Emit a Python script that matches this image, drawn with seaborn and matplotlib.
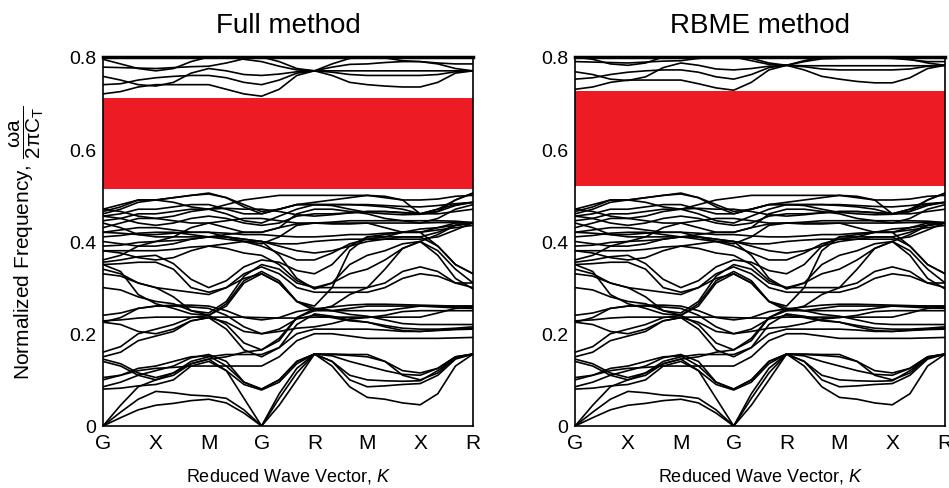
import numpy as np
import pandas as pd
import seaborn as sns
import matplotlib.pyplot as plt

# high-symmetry path, equally spaced on the axis
k_labels = ['G', 'X', 'M', 'G', 'R', 'M', 'X', 'R']
n_pts = 22  # 3 samples per segment + end point

# gap edges (normalized frequency)
gap_full = (0.514, 0.711)
gap_rbme = (0.520, 0.727)

# bands below the gap (shared by both panels)
b01 = [0, .018, .035, .045, .049, .055, .058, .05, .028, 0, .045, .1, .156, .13, .085, .062, .058, .05, .046, .07, .13, .156]
b02 = [0, .03, .058, .075, .072, .067, .065, .06, .035, 0, .06, .115, .156, .14, .1, .085, .087, .09, .092, .11, .145, .156]
b03 = [0, .045, .085, .1, .11, .135, .145, .12, .06, 0, .07, .125, .156, .155, .153, .15, .14, .11, .1, .115, .148, .156]
b04 = [.08, .082, .087, .09, .1, .13, .14, .12, .09, .078, .095, .135, .156, .156, .155, .155, .14, .12, .115, .125, .15, .156]
b05 = [.085, .095, .11, .12, .13, .148, .155, .14, .095, .08, .1, .14, .156, .14, .11, .1, .098, .097, .098, .12, .148, .156]
b06 = [.105, .11, .12, .125, .127, .13, .13, .13, .13, .13, .15, .185, .2, .2, .195, .19, .19, .19, .19, .19, .191, .192]
b07 = [.14, .13, .11, .1, .115, .14, .15, .155, .155, .155, .17, .2, .21, .21, .21, .21, .208, .205, .205, .208, .21, .212]
b08 = [.15, .16, .185, .195, .205, .228, .235, .21, .165, .15, .17, .22, .243, .238, .23, .225, .215, .207, .205, .207, .209, .21]
b09 = [.16, .172, .2, .21, .22, .235, .24, .22, .18, .165, .185, .235, .254, .25, .242, .238, .23, .222, .22, .22, .22, .22]
b10 = [.225, .22, .205, .2, .21, .228, .235, .225, .205, .2, .205, .212, .215, .222, .232, .235, .24, .248, .25, .25, .25, .25]
b11 = [.228, .23, .234, .236, .236, .236, .236, .236, .236, .235, .234, .234, .236, .236, .236, .236, .236, .236, .236, .245, .255, .257]
b12 = [.24, .245, .255, .26, .262, .262, .26, .25, .235, .23, .235, .248, .254, .258, .262, .264, .264, .263, .262, .261, .26, .26]
b13 = [.3, .295, .28, .27, .265, .25, .245, .27, .325, .35, .34, .31, .3, .3, .3, .3, .31, .335, .345, .335, .31, .3]
b14 = [.355, .36, .367, .37, .352, .318, .3, .315, .345, .36, .355, .337, .33, .35, .39, .41, .41, .41, .41, .39, .35, .33]
b15 = [.35, .335, .285, .265, .255, .243, .24, .265, .315, .335, .315, .27, .25, .26, .285, .3, .34, .385, .4, .415, .435, .44]
b16 = [.34, .33, .31, .3, .28, .25, .24, .26, .31, .33, .31, .27, .26, .3, .38, .41, .415, .42, .42, .43, .44, .44]
b17 = [.38, .38, .38, .38, .383, .388, .39, .395, .4, .4, .37, .32, .297, .31, .35, .37, .38, .395, .4, .37, .32, .297]
b18 = [.40, .395, .39, .39, .395, .405, .41, .415, .42, .42, .43, .438, .44, .44, .44, .44, .43, .42, .42, .39, .35, .33]
b19 = [.41, .413, .418, .42, .42, .415, .41, .405, .4, .39, .375, .36, .36, .375, .395, .405, .405, .405, .405, .41, .425, .441]
b20 = [.42, .425, .43, .43, .425, .42, .42, .41, .4, .395, .41, .435, .44, .438, .438, .44, .44, .44, .44, .441, .441, .441]
b21 = [.43, .44, .45, .45, .445, .44, .44, .43, .42, .42, .43, .46, .47, .47, .465, .46, .45, .445, .44, .45, .47, .48]
b22 = [.445, .45, .46, .46, .465, .47, .47, .46, .445, .44, .455, .47, .48, .478, .47, .463, .46, .458, .459, .465, .478, .485]
b23 = [.455, .46, .47, .47, .475, .48, .48, .47, .46, .46, .47, .48, .48, .48, .48, .48, .478, .476, .475, .478, .482, .485]
b24 = [.46, .47, .485, .49, .485, .475, .47, .48, .49, .495, .5, .5, .5, .5, .5, .5, .495, .49, .49, .492, .498, .5]
b25 = [.47, .48, .49, .49, .495, .5, .503, .495, .475, .46, .47, .48, .485, .49, .495, .5, .498, .49, .46, .47, .49, .505]
b26 = [.465, .475, .49, .49, .495, .5, .505, .495, .48, .465, .47, .48, .48, .48, .48, .478, .475, .47, .46, .465, .49, .505]
b27 = [.44, .43, .415, .41, .41, .41, .41, .41, .405, .4, .39, .38, .375, .38, .39, .4, .405, .41, .41, .42, .435, .44]
b28 = [.39, .392, .398, .4, .402, .405, .41, .41, .405, .4, .395, .395, .4, .403, .405, .405, .41, .42, .427, .43, .435, .44]
b29 = [.36, .37, .39, .4, .41, .43, .44, .445, .45, .45, .445, .44, .44, .442, .445, .445, .445, .445, .445, .445, .444, .441]
b30 = [.35, .352, .355, .355, .34, .3, .29, .3, .33, .345, .33, .3, .29, .29, .29, .29, .3, .32, .33, .325, .31, .31]
b31 = [.145, .135, .115, .105, .115, .135, .145, .15, .16, .165, .19, .235, .25, .25, .255, .26, .26, .26, .26, .26, .26, .26]
b32 = [.1, .11, .125, .13, .14, .15, .152, .13, .095, .08, .1, .14, .156, .152, .14, .13, .12, .112, .11, .125, .15, .156]
b33 = [.225, .235, .255, .26, .26, .258, .255, .24, .215, .2, .21, .232, .24, .235, .228, .225, .218, .212, .21, .21, .212, .215]
b34 = [.455, .45, .44, .435, .44, .45, .455, .45, .44, .435, .44, .455, .46, .46, .462, .465, .465, .462, .46, .47, .48, .485]
b35 = [.42, .418, .415, .415, .418, .42, .42, .418, .415, .415, .412, .41, .41, .412, .415, .415, .418, .42, .42, .425, .43, .435]
b36 = [.47, .465, .455, .45, .455, .465, .47, .472, .47, .47, .465, .458, .455, .458, .462, .465, .465, .463, .46, .46, .465, .47]
b37 = [.38, .375, .365, .36, .365, .38, .39, .385, .375, .37, .35, .315, .3, .31, .33, .34, .36, .385, .4, .38, .34, .31]
b38 = [.33, .325, .31, .3, .295, .29, .285, .3, .32, .33, .31, .27, .255, .25, .25, .25, .25, .255, .26, .258, .256, .255]
lower_bands = [b01, b02, b03, b04, b05, b06, b07, b08, b09, b10, b11, b12, b13, b14, b15, b16, b17, b18, b19,
               b20, b21, b22, b23, b24, b25, b26, b27, b28, b29, b30, b31, b32, b33, b34, b35, b36, b37, b38]

# bands above the gap, full method
fu1 = [.72, .725, .735, .74, .74, .74, .74, .73, .72, .715, .73, .76, .77, .76, .745, .74, .737, .735, .735, .745, .765, .77]
fu2 = [.74, .742, .75, .755, .758, .76, .76, .755, .745, .74, .75, .765, .77, .767, .762, .76, .76, .76, .76, .762, .768, .77]
fu3 = [.758, .75, .74, .737, .745, .765, .775, .77, .762, .76, .763, .768, .77, .778, .784, .785, .788, .79, .79, .785, .775, .77]
fu4 = [.778, .777, .776, .775, .777, .779, .78, .787, .796, .8, .79, .775, .77, .785, .797, .8, .798, .792, .79, .787, .785, .785]
fu5 = [.795, .785, .775, .77, .775, .79, .8, .8, .795, .79, .78, .772, .77, .77, .77, .77, .77, .77, .77, .77, .77, .77]
upper_full = [fu1, fu2, fu3, fu4, fu5]

# bands above the gap, RBME method
ru1 = [.73, .735, .745, .75, .75, .75, .75, .742, .733, .728, .745, .772, .782, .772, .758, .752, .747, .744, .744, .755, .775, .782]
ru2 = [.752, .755, .762, .767, .77, .772, .772, .767, .757, .752, .762, .777, .782, .779, .774, .772, .772, .772, .772, .774, .78, .782]
ru3 = [.768, .762, .752, .749, .757, .777, .787, .782, .774, .772, .775, .78, .782, .79, .796, .797, .798, .8, .8, .795, .787, .782]
ru4 = [.79, .789, .788, .787, .789, .791, .792, .797, .8, .8, .797, .787, .782, .792, .8, .8, .8, .798, .797, .794, .79, .79]
ru5 = [.8, .795, .785, .782, .787, .8, .8, .8, .8, .8, .792, .784, .782, .781, .781, .781, .781, .781, .781, .781, .781, .782]
upper_rbme = [ru1, ru2, ru3, ru4, ru5]


def bands_frame(bands):
    k = np.linspace(0, len(k_labels) - 1, n_pts)
    rows = []
    for i, b in enumerate(bands):
        for kk, f in zip(k, b):
            rows.append((i, kk, f))
    return pd.DataFrame(rows, columns=['band', 'k', 'freq'])


sns.set_style('white')
plt.rcParams['font.family'] = ['Liberation Sans', 'DejaVu Sans']
plt.rcParams['mathtext.fontset'] = 'custom'
plt.rcParams['mathtext.rm'] = 'Liberation Sans'
plt.rcParams['mathtext.it'] = 'Liberation Sans:italic'
for key in ['text.color', 'axes.labelcolor', 'xtick.color', 'ytick.color']:
    plt.rcParams[key] = 'black'

fig = plt.figure(figsize=(9.49, 4.89), dpi=100)
ax1 = fig.add_axes([0.1085, 0.1268, 0.39, 0.7546])
ax2 = fig.add_axes([0.606, 0.1268, 0.39, 0.7546])

panels = [(ax1, 'Full method', gap_full, upper_full),
          (ax2, 'RBME method', gap_rbme, upper_rbme)]

for ax, title, gap, upper in panels:
    ax.axhspan(gap[0], gap[1], color='#ED1C24', lw=0, zorder=1)
    df = bands_frame(lower_bands + upper)
    sns.lineplot(data=df, x='k', y='freq', units='band', estimator=None,
                 color='black', lw=1.2, ax=ax, zorder=2, legend=False)
    ax.set_xlim(0, len(k_labels) - 1)
    ax.set_ylim(0, 0.8)
    ax.set_xticks(range(len(k_labels)))
    ax.set_xticklabels(k_labels, fontsize=15)
    ax.set_yticks([0, 0.2, 0.4, 0.6, 0.8])
    ax.set_yticklabels(['0', '0.2', '0.4', '0.6', '0.8'], fontsize=14)
    ax.tick_params(length=0, pad=5)
    ax.set_xlabel('Reduced Wave Vector, $K$', fontsize=13, labelpad=10)
    ax.set_ylabel('')
    ax.set_title(title, fontsize=20, pad=18)
    for side, sp in ax.spines.items():
        sp.set_visible(True)
        sp.set_color('black')
        sp.set_linewidth(2.5 if side == 'top' else 1.2)

ax1.set_ylabel(r'Normalized Frequency, $\dfrac{\mathrm{\omega a}}{\mathrm{2\pi C_T}}$',
               fontsize=15)
ax1.yaxis.set_label_coords(-0.155, 0.5)

fig.savefig('out.png', dpi=100)
